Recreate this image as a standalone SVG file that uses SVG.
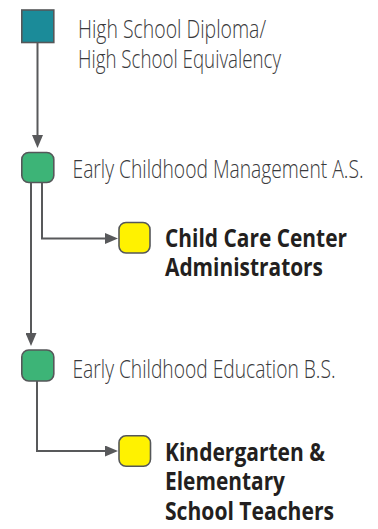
<svg xmlns="http://www.w3.org/2000/svg" width="378" height="529" viewBox="0 0 378 529">
<defs>
<style>
.node{stroke:#555759;stroke-width:1.6}
.teal{fill:#1b8b99}
.green{fill:#3db477}
.yellow{fill:#fff200}
.conn{fill:none;stroke:#58595b;stroke-width:2}
.lt{font-family:"Open Sans","Liberation Sans",sans-serif;font-weight:300;font-size:25.5px;fill:#3a3a3c}
.bd{font-family:"Open Sans","Liberation Sans",sans-serif;font-weight:700;font-size:24.5px;fill:#231f20}
</style>
<marker id="arr" markerUnits="userSpaceOnUse" markerWidth="13" markerHeight="11" viewBox="0 0 13 11" refX="7" refY="5.5" orient="auto">
<path d="M0,0 L13,5.5 L0,11 z" fill="#58595b"/>
</marker>
</defs>
<rect width="378" height="529" fill="#ffffff"/>
<g id="connectors">
<path class="conn" d="M37.5,43 V142" marker-end="url(#arr)"/>
<path class="conn" d="M42,183 V238.5 H112" marker-end="url(#arr)"/>
<path class="conn" d="M31,183 V340" marker-end="url(#arr)"/>
<path class="conn" d="M37,381 V451 H112" marker-end="url(#arr)"/>
</g>
<g id="n1">
<rect class="node teal" x="21.8" y="10" width="32" height="32.5"/>
<text class="lt" transform="translate(78,37.8) scale(0.8,1)" x="0" y="0" textLength="235" lengthAdjust="spacingAndGlyphs">High School Diploma/</text>
<text class="lt" transform="translate(78,67.5) scale(0.8,1)" x="0" y="0" textLength="253.75" lengthAdjust="spacingAndGlyphs">High School Equivalency</text>
</g>
<g id="n2">
<rect class="node green" x="21.8" y="152.5" width="32" height="30" rx="7"/>
<text class="lt" transform="translate(72.5,177.7) scale(0.8,1)" x="0" y="0" textLength="363.75" lengthAdjust="spacingAndGlyphs">Early Childhood Management A.S.</text>
</g>
<g id="n3">
<rect class="node yellow" x="119" y="222.5" width="31" height="30.5" rx="7"/>
<text class="bd" transform="translate(165,247) scale(0.8,1)" x="0" y="0" textLength="227.5" lengthAdjust="spacingAndGlyphs">Child Care Center</text>
<text class="bd" transform="translate(165,276) scale(0.8,1)" x="0" y="0" textLength="197.5" lengthAdjust="spacingAndGlyphs">Administrators</text>
</g>
<g id="n4">
<rect class="node green" x="21.8" y="350" width="32" height="31" rx="7"/>
<text class="lt" transform="translate(72.5,377.7) scale(0.8,1)" x="0" y="0" textLength="328.75" lengthAdjust="spacingAndGlyphs">Early Childhood Education B.S.</text>
</g>
<g id="n5">
<rect class="node yellow" x="119" y="435.8" width="31.5" height="30.5" rx="7"/>
<text class="bd" transform="translate(165,461) scale(0.8,1)" x="0" y="0" textLength="200" lengthAdjust="spacingAndGlyphs">Kindergarten &amp;</text>
<text class="bd" transform="translate(165,490) scale(0.8,1)" x="0" y="0" textLength="150" lengthAdjust="spacingAndGlyphs">Elementary</text>
<text class="bd" transform="translate(165,520) scale(0.8,1)" x="0" y="0" textLength="211.25" lengthAdjust="spacingAndGlyphs">School Teachers</text>
</g>
</svg>
